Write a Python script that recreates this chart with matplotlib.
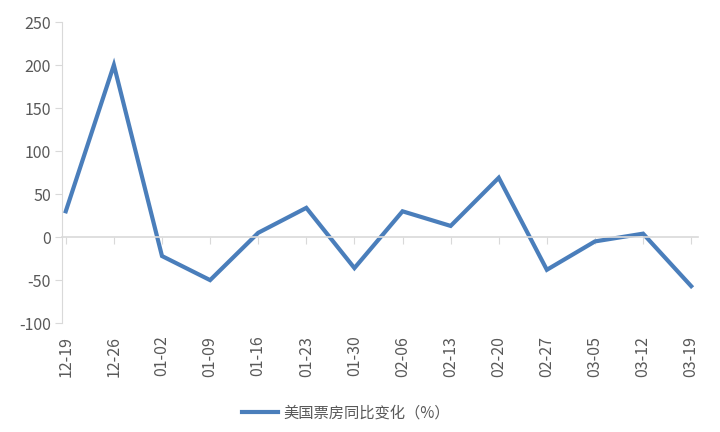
import numpy as np
import matplotlib
matplotlib.use('Agg')
import matplotlib.pyplot as plt

plt.rcParams['font.family'] = ['Noto Sans CJK SC', 'DejaVu Sans']
plt.rcParams['axes.unicode_minus'] = False

# weekly data, yoy change of US box office (%)
weeks = ['12-19', '12-26', '01-02', '01-09', '01-16', '01-23', '01-30',
         '02-06', '02-13', '02-20', '02-27', '03-05', '03-12', '03-19']
yoy = [30, 200, -22, -50, 5, 34, -36, 30, 13, 69, -38, -5, 4, -57]
series_name = '美国票房同比变化（%）'

fig = plt.figure(figsize=(7.2, 4.32), dpi=100)
ax = fig.add_axes([0.086, 0.252, 0.884, 0.697])

x = np.arange(len(weeks))
ax.plot(x, yoy, color='#4a7ebb', lw=3.0, solid_joinstyle='miter', label=series_name)

ax.set_ylim(-100, 250)
ax.set_yticks(np.arange(-100, 251, 50))
ax.set_xlim(-0.08, 13.15)

for s in ['top', 'right']:
    ax.spines[s].set_visible(False)
ax.spines['left'].set_color('#d9d9d9')
ax.spines['bottom'].set_color('#d9d9d9')
ax.spines['bottom'].set_linewidth(1.2)
ax.spines['bottom'].set_position(('data', 0))

ax.set_xticks(x)
ax.tick_params(axis='x', which='both', length=5, color='#d9d9d9', labelbottom=False)
ax.tick_params(axis='y', length=5, color='#d9d9d9', labelcolor='#595959',
               labelsize=11.5, pad=3)

# category labels down at the bottom
sec = ax.secondary_xaxis('bottom')
sec.set_xticks(x)
sec.set_xticklabels(weeks, rotation=90, color='#595959', fontsize=11.5)
sec.tick_params(length=0, pad=9)
sec.spines['bottom'].set_visible(False)

fig.legend(loc='center', bbox_to_anchor=(0.48, 0.044), frameon=False,
           fontsize=11, handlelength=2.4, handletextpad=0.3, labelcolor='#595959')

fig.savefig('out.png', dpi=100)
